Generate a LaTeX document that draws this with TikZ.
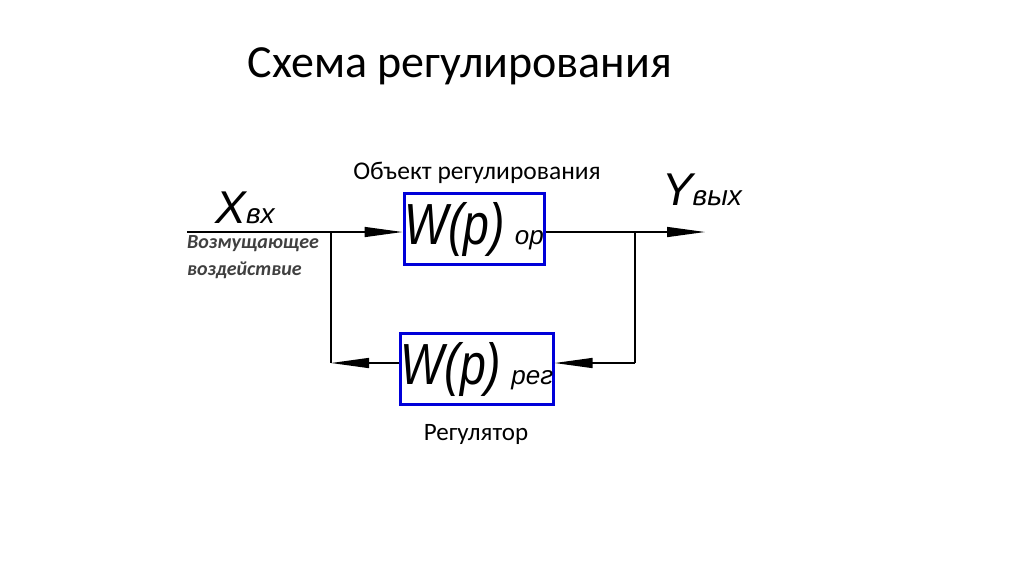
\documentclass[tikz,border=0pt]{standalone}
\usepackage{fontspec}
\setmainfont{Carlito}
\newfontfamily\arl{Liberation Sans}
\usetikzlibrary{arrows.meta,calc}
\begin{document}
\begin{tikzpicture}[x=1pt,y=-1pt,
  blk/.style={draw=blue!85!black,line width=3pt,minimum width=140pt,minimum height=71pt,inner sep=0pt},
  ln/.style={line width=1.4pt},
  tip/.style={-{Triangle[length=38pt,width=10pt]}}]
\useasboundingbox (0,0) rectangle (1024,574);
\node (title) at (460,66) {\fontsize{46}{52}\selectfont Схема регулирования};
\node[blk] (b1) at (474,229) {\arl\itshape\scalebox{0.8}[1]{\fontsize{58}{58}\selectfont W(p)}\hspace{10pt}\fontsize{26}{26}\selectfont ор};
\node[blk] (b2) at (477,369) {\arl\itshape\scalebox{0.8}[1]{\fontsize{58}{58}\selectfont W(p)}\hspace{10pt}\fontsize{26}{26}\selectfont рег};
\node (t1) at (477,173) {\fontsize{25.5}{28}\selectfont Объект регулирования};
\node (t2) at (476,434) {\fontsize{25}{28}\selectfont Регулятор};
\node[font=\arl\itshape] (x) at (245,208) {\fontsize{46}{46}\selectfont X\fontsize{28}{28}\selectfont вх};
\node[font=\arl\itshape] (y) at (702,190) {\fontsize{46}{46}\selectfont Y\fontsize{28}{28}\selectfont вых};
\node[font=\bfseries\itshape\fontsize{20}{27}\selectfont,text=black!75,align=left] (d) at (253,257) {Возмущающее\\воздействие};
\coordinate (in) at (187,232);
\coordinate (j1) at (331,232);
\coordinate (j2) at (635,232);
\coordinate (out) at (705,232);
\coordinate (l1) at (331,363);
\coordinate (r1) at (635,363);
\draw[ln] (in) -- (j1);
\draw[ln,tip] (j1) -- (b1.west|-j1);
\draw[ln] (b1.east|-j1) -- (j2);
\draw[ln,tip] (j2) -- (out);
\draw[ln] (j1) -- (l1);
\draw[ln] (j2) -- (r1);
\draw[ln,tip] (r1) -- (b2.east|-r1);
\draw[ln] (b2.west|-l1) -- ($(l1)+(38,0)$);
\draw[ln,tip] ($(l1)+(38,0)$) -- (l1);
\end{tikzpicture}
\end{document}
